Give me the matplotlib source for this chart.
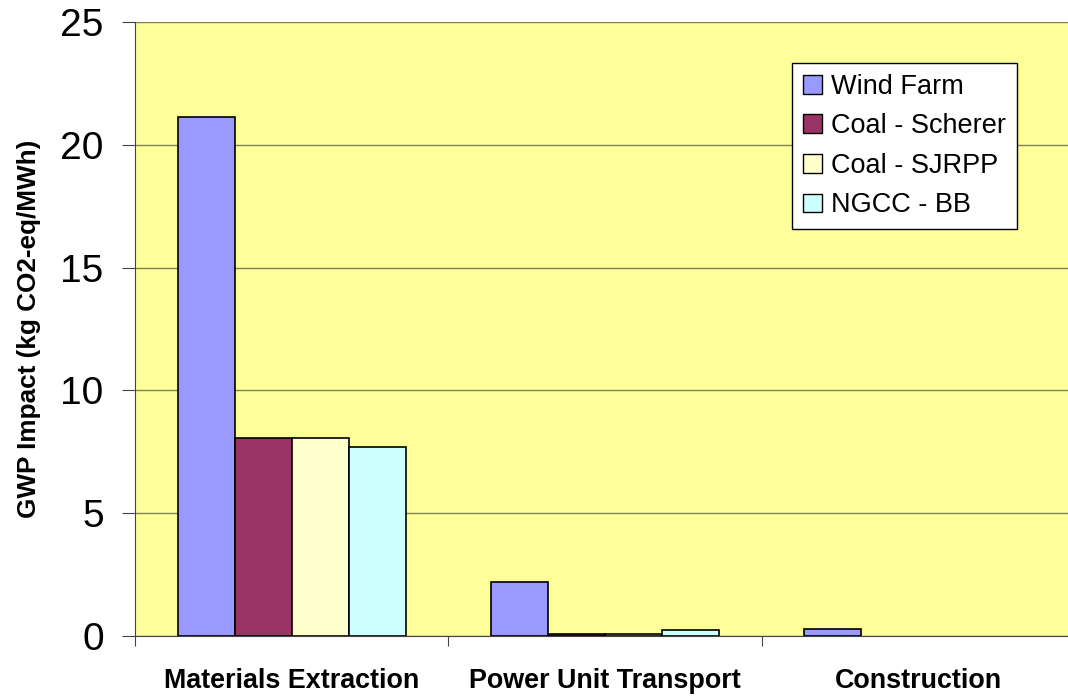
import numpy as np
import matplotlib.pyplot as plt

plt.rcParams['font.family'] = ['Liberation Sans', 'DejaVu Sans']

# GWP impact per life-cycle stage (kg CO2-eq/MWh)
stages = ["Materials Extraction", "Power Unit Transport", "Construction"]
plants = ["Wind Farm", "Coal - Scherer", "Coal - SJRPP", "NGCC - BB"]
wind_farm = [21.13, 2.18, 0.30]
coal_scherer = [8.06, 0.10, 0.0]
coal_sjrpp = [8.06, 0.10, 0.0]
ngcc_bb = [7.70, 0.23, 0.0]
colors = ["#9999FF", "#993366", "#FFFFCC", "#CCFFFF"]

series = [wind_farm, coal_scherer, coal_sjrpp, ngcc_bb]

fig = plt.figure(figsize=(10.68, 6.96), dpi=100)
ax = fig.add_axes([0.1264, 0.0862, 0.880, 0.8822])
ax.set_facecolor("#FFFF99")

x = np.arange(len(stages))
w = 0.182
for i, (vals, name, c) in enumerate(zip(series, plants, colors)):
    bars = ax.bar(x + (i - 1.5) * w, vals, width=w, color=c, edgecolor="black",
                  linewidth=1.2, label=name, zorder=3)
    # empty stages get no outline
    for b, v in zip(bars, vals):
        if v == 0:
            b.set_visible(False)

ax.set_xlim(-0.5, 2.5)
ax.set_ylim(0, 25)
ax.set_yticks(range(0, 26, 5))
ax.yaxis.grid(True, color="#7f7f5a", linewidth=1.0, zorder=0)
ax.tick_params(axis="y", labelsize=28, length=9.5, width=0.8, pad=13, color="#444444")

# category labels centred, tick marks on the boundaries
ax.set_xticks(x)
ax.set_xticklabels(stages, fontsize=19.4, fontweight="bold")
ax.tick_params(axis="x", length=0, pad=23)
ax.set_xticks([-0.5, 0.5, 1.5, 2.5], minor=True)
ax.tick_params(axis="x", which="minor", length=7, width=0.8, color="#444444")

ax.set_ylabel("GWP Impact (kg CO2-eq/MWh)", fontsize=18.8, fontweight="bold", labelpad=14)

for side in ["top", "right"]:
    ax.spines[side].set_visible(False)
ax.spines["left"].set_color("#444444")
ax.spines["bottom"].set_color("#444444")

leg = ax.legend(loc="upper left", bbox_to_anchor=(792 / 1068, 1 - 63 / 696),
                bbox_transform=fig.transFigure, fontsize=19.5, frameon=True,
                fancybox=False, edgecolor="black", framealpha=1,
                handlelength=0.7, handleheight=0.7, handletextpad=0.35,
                borderpad=0.4, labelspacing=0.5, borderaxespad=0)
leg.get_frame().set_linewidth(1.0)
for h in leg.legend_handles:
    h.set_linewidth(1.0)
    h.set_visible(True)

fig.savefig("out.png", dpi=100)
